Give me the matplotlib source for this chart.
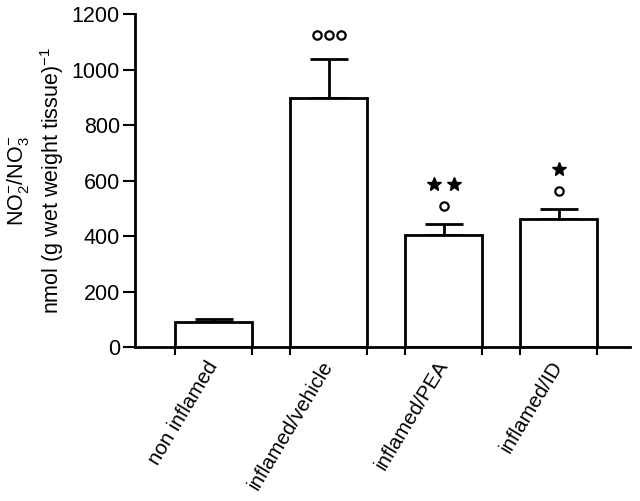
import numpy as np
import matplotlib.pyplot as plt

plt.rcParams['font.family'] = ['Liberation Sans', 'DejaVu Sans']
plt.rcParams['mathtext.fontset'] = 'custom'
plt.rcParams['mathtext.rm'] = 'Liberation Sans'
plt.rcParams['mathtext.it'] = 'Liberation Sans:italic'

groups = ['non inflamed', 'inflamed/vehicle', 'inflamed/PEA', 'inflamed/ID']
means = [90, 896, 403, 461]
sem = [10, 142, 41, 37]
circles = [0, 3, 1, 1]     # open-circle marks above each bar
stars = [0, 0, 2, 1]       # star marks above each bar
yticks = [0, 200, 400, 600, 800, 1000, 1200]

fig = plt.figure(figsize=(6.4, 5.01), dpi=100)
ax = fig.add_axes([0.211, 0.307, 0.773, 0.665])

x = np.arange(len(groups))
w = 0.67
ax.bar(x, means, width=w, color='white', edgecolor='black', linewidth=2, zorder=2)
ax.errorbar(x, means, yerr=[np.zeros(len(sem)), sem], fmt='none', ecolor='black',
            elinewidth=2, capsize=14, capthick=2, zorder=1)

# significance marks
for i in range(len(groups)):
    top = means[i] + sem[i]
    if circles[i]:
        n = circles[i]
        cx = x[i] + (np.arange(n) - (n - 1) / 2) * 0.105
        cy = top + 85 if stars[i] == 0 else top + 65
        ax.plot(cx, [cy] * n, 'o', mfc='white', mec='black', ms=6, mew=1.6, clip_on=False)
    if stars[i]:
        n = stars[i]
        sx = x[i] + (np.arange(n) - (n - 1) / 2) * 0.175
        ax.plot(sx, [top + 145] * n, '*', color='black', ms=10, clip_on=False)

ax.set_ylim(0, 1200)
ax.set_xlim(-0.687, 3.62)
ax.set_yticks(yticks)
ax.tick_params(axis='y', labelsize=15.5, width=1.5, length=9, direction='out', pad=2)

ax.set_xticks(x)
ax.set_xticklabels(groups, rotation=59, ha='right', va='center', rotation_mode='anchor',
                   fontsize=14.8)
ax.tick_params(axis='x', which='major', length=0, pad=11)
edges = np.concatenate([x - w / 2, x + w / 2])
ax.set_xticks(edges, minor=True)
ax.tick_params(axis='x', which='minor', length=6, width=1.5)

for s in ['top', 'right']:
    ax.spines[s].set_visible(False)
for s in ['left', 'bottom']:
    ax.spines[s].set_linewidth(2)

ax.set_ylabel('$\\mathregular{NO_2^{-}/NO_3^{-}}$\nnmol (g wet weight tissue)$^{\\mathregular{-1}}$',
              fontsize=15.5, linespacing=1.35, labelpad=4)

fig.savefig('out.png', dpi=100)
